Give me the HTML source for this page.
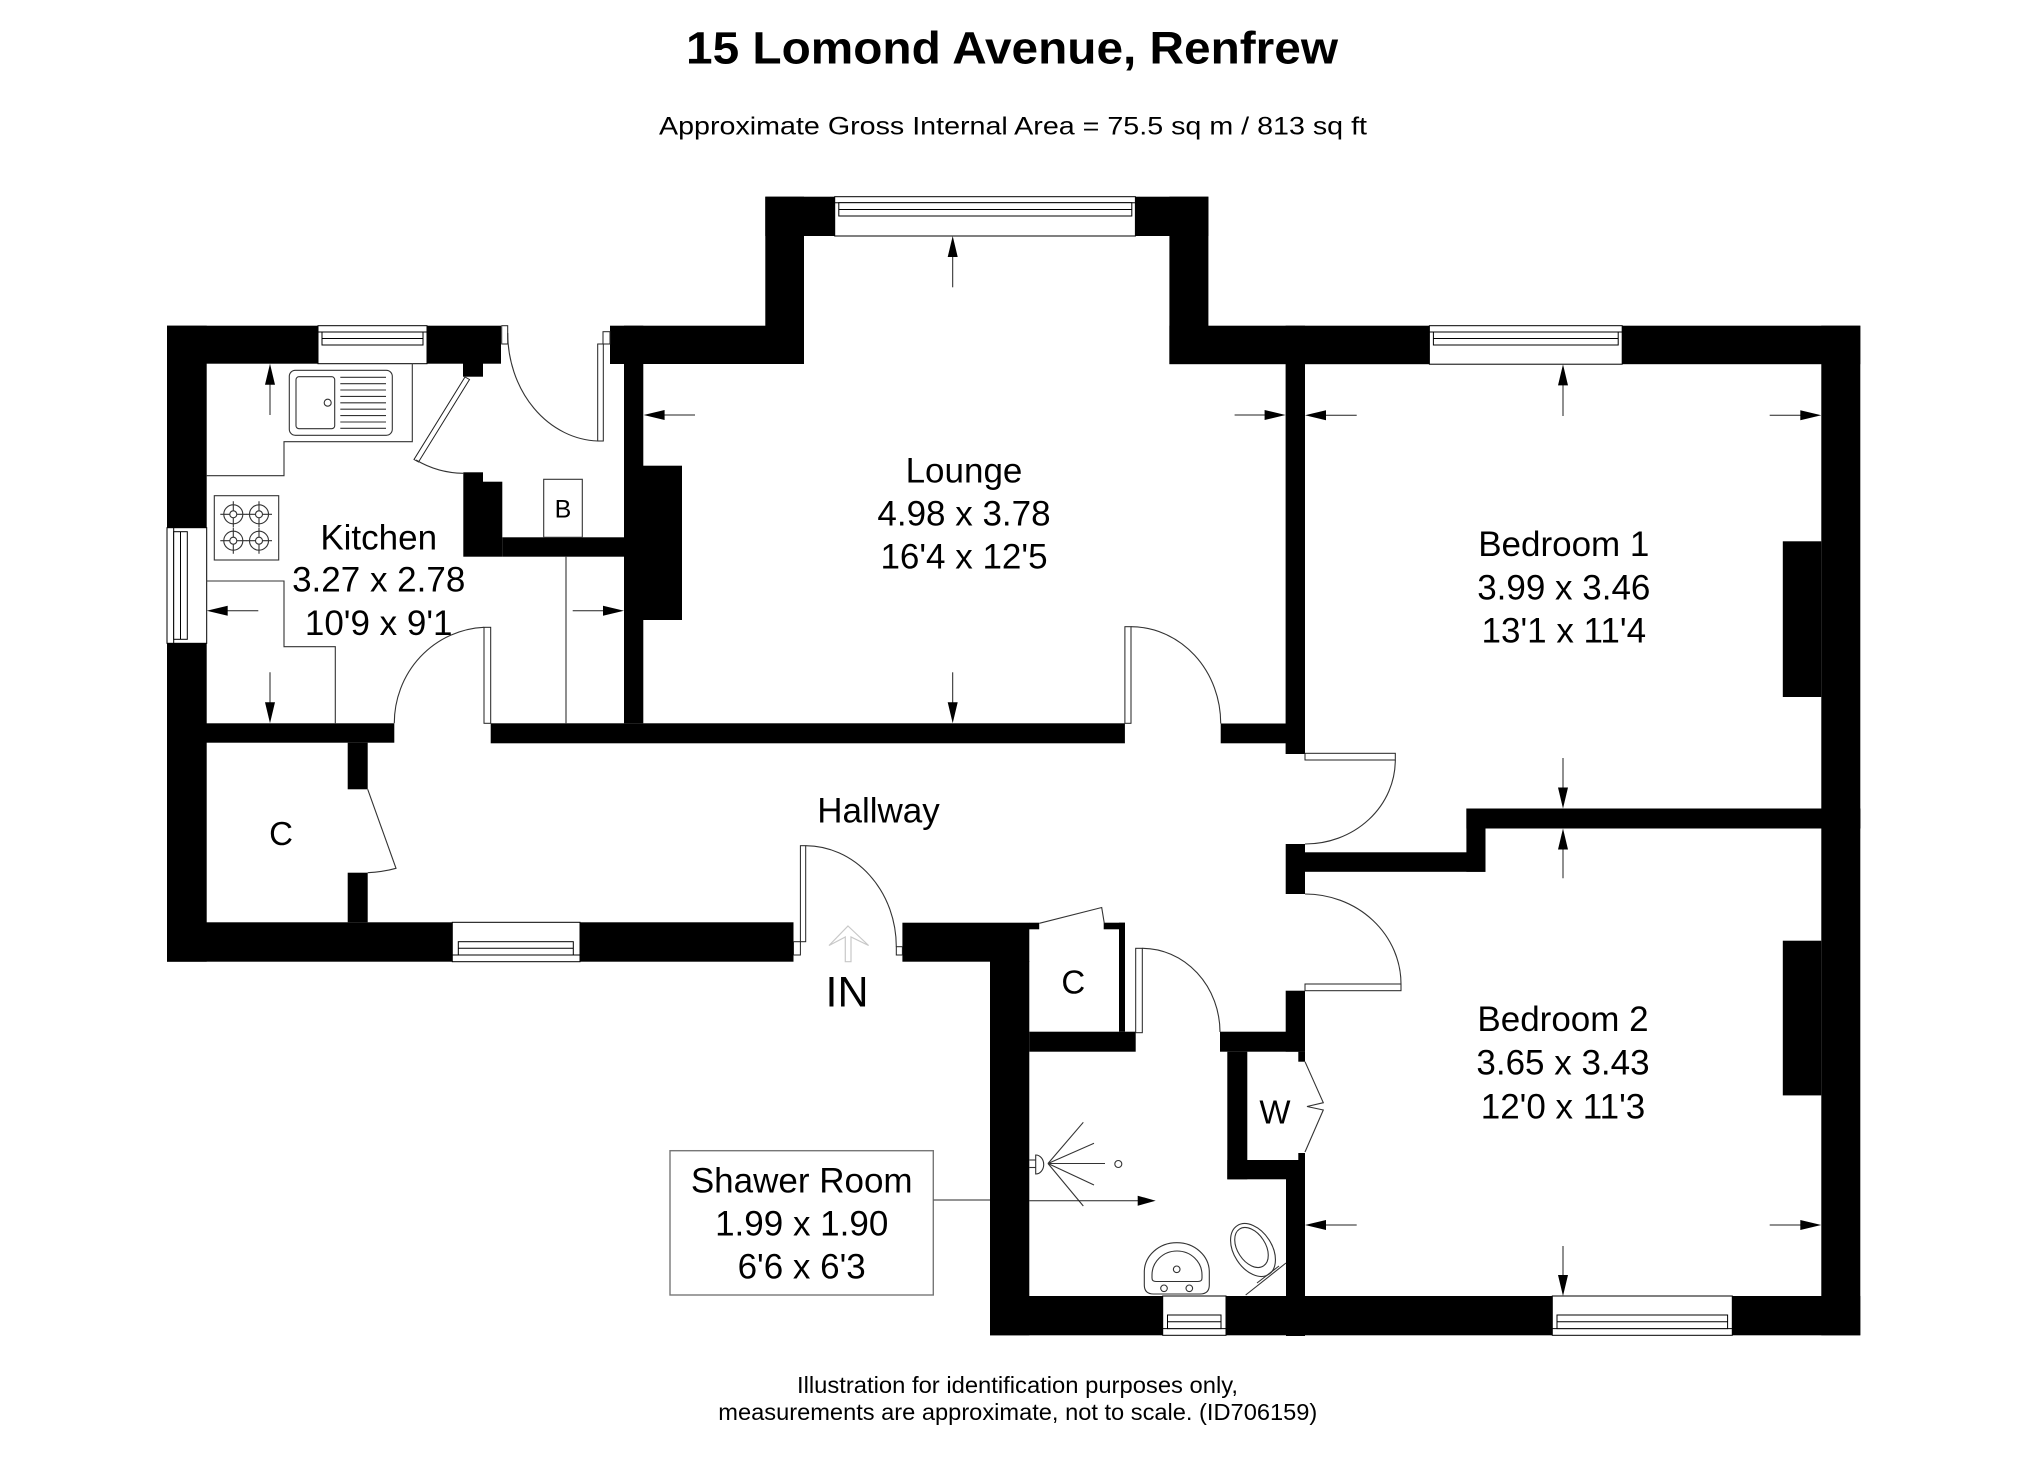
<!DOCTYPE html>
<html>
<head>
<meta charset="utf-8">
<style>
  html,body{margin:0;padding:0;background:#fff;}
  svg{display:block;}
  text{font-family:"Liberation Sans",Arial,sans-serif;fill:#000;}
</style>
</head>
<body>
<svg width="2025" height="1463" viewBox="0 0 2025 1463" xmlns="http://www.w3.org/2000/svg">
<rect x="0" y="0" width="2025" height="1463" fill="#fff"/>

<!-- Titles -->
<text x="1012" y="63.3" font-size="45" font-weight="bold" text-anchor="middle" textLength="652" lengthAdjust="spacingAndGlyphs">15 Lomond Avenue, Renfrew</text>
<text x="1013" y="134.5" font-size="25" text-anchor="middle" textLength="708" lengthAdjust="spacingAndGlyphs">Approximate Gross Internal Area = 75.5 sq m / 813 sq ft</text>

<!-- Footer -->
<text x="1017.5" y="1393" font-size="23.5" text-anchor="middle" textLength="441" lengthAdjust="spacingAndGlyphs">Illustration for identification purposes only,</text>
<text x="1017.8" y="1420" font-size="23.5" text-anchor="middle" textLength="599" lengthAdjust="spacingAndGlyphs">measurements are approximate, not to scale. (ID706159)</text>

<!-- ================= WALLS ================= -->
<g fill="#000">
  <rect x="167" y="325.7" width="151" height="38"/>
  <rect x="427" y="325.7" width="74" height="38"/>
  <rect x="463" y="363" width="20" height="13.7"/>
  <rect x="167" y="325.7" width="39.7" height="202"/>
  <rect x="167" y="643.3" width="39.7" height="318.4"/>
  <rect x="167" y="723.3" width="227.3" height="19.4"/>
  <rect x="490.7" y="723.3" width="634.2" height="20"/>
  <rect x="1220.7" y="723.5" width="84.3" height="19.8"/>
  <rect x="624" y="325.7" width="19.3" height="397.6"/>
  <rect x="624" y="465.7" width="58" height="154.3"/>
  <rect x="463.3" y="472.3" width="19.7" height="84.4"/>
  <rect x="483" y="481.7" width="19.3" height="75"/>
  <rect x="502.3" y="537.3" width="121.7" height="19.4"/>
  <rect x="610" y="325.7" width="194" height="38.3"/>
  <rect x="765.3" y="196.7" width="38.7" height="167.3"/>
  <rect x="765.3" y="196.7" width="69.4" height="39.3"/>
  <rect x="1135.4" y="196.7" width="73" height="39.3"/>
  <rect x="1169.4" y="196.7" width="39" height="167.3"/>
  <rect x="1169.4" y="325.7" width="260" height="38.5"/>
  <rect x="1622.2" y="325.7" width="238.1" height="38.5"/>
  <rect x="1285.6" y="325.7" width="19.4" height="428.3"/>
  <rect x="1821.3" y="325.7" width="39" height="1009.6"/>
  <rect x="1782.8" y="541.3" width="38.5" height="155.7"/>
  <rect x="1782.8" y="940.7" width="38.5" height="154.7"/>
  <rect x="1466.4" y="808.5" width="394" height="20"/>
  <rect x="1466.4" y="808.5" width="19.1" height="63.3"/>
  <rect x="1286" y="852.3" width="199.5" height="19.5"/>
  <rect x="1285.7" y="844" width="19.3" height="50"/>
  <rect x="1285.7" y="990.7" width="19.3" height="61"/>
  <rect x="1220" y="1031.7" width="85" height="20"/>
  <rect x="1227.3" y="1051.7" width="20" height="127.6"/>
  <rect x="1227.3" y="1160" width="77.7" height="19.3"/>
  <rect x="1298.3" y="1051.7" width="6.7" height="10"/>
  <rect x="1298.3" y="1153" width="6.7" height="7"/>
  <rect x="1286" y="1160" width="19" height="176"/>
  <rect x="990" y="1296" width="172.7" height="39.3"/>
  <rect x="1226" y="1296" width="326.3" height="39.3"/>
  <rect x="1732.3" y="1296" width="128" height="39.3"/>
  <rect x="990" y="961" width="39.3" height="374.3"/>
  <rect x="902.4" y="922.7" width="126.9" height="39"/>
  <rect x="1029" y="922.7" width="10.2" height="6.6"/>
  <rect x="1103.7" y="922.7" width="21.2" height="6.6"/>
  <rect x="1119" y="922.7" width="6" height="109"/>
  <rect x="1029.3" y="1031.7" width="106.4" height="20"/>
  <rect x="167" y="922.3" width="285.3" height="39.4"/>
  <rect x="580" y="922.3" width="213.5" height="39.4"/>
  <rect x="347.7" y="742.7" width="20" height="46.6"/>
  <rect x="347.7" y="872.7" width="20" height="49.6"/>
</g>

<!-- ================= WINDOWS ================= -->
<g fill="#fff" stroke="#000" stroke-width="1">
  <rect x="318" y="325.7" width="109" height="38"/>
  <line x1="318" y1="332" x2="427" y2="332"/>
  <rect x="322" y="332" width="101" height="13"/>
  <line x1="322" y1="338.5" x2="423" y2="338.5"/>
  <rect x="834.7" y="196.7" width="300.7" height="39.3"/>
  <line x1="834.7" y1="202.7" x2="1135.4" y2="202.7"/>
  <rect x="838.8" y="202.7" width="293" height="13.3"/>
  <line x1="838.8" y1="209.5" x2="1131.8" y2="209.5"/>
  <rect x="1429.4" y="325.7" width="192.8" height="38.5"/>
  <line x1="1429.4" y1="332" x2="1622.2" y2="332"/>
  <rect x="1433.4" y="332" width="184.8" height="13"/>
  <line x1="1433.4" y1="338.5" x2="1618.2" y2="338.5"/>
  <rect x="167" y="527.7" width="39.7" height="115.6"/>
  <line x1="173.7" y1="527.7" x2="173.7" y2="643.3"/>
  <rect x="173.7" y="531.7" width="13.6" height="107.6"/>
  <line x1="180.5" y1="531.7" x2="180.5" y2="639.3"/>
  <rect x="452.3" y="922.3" width="127.7" height="39.4"/>
  <line x1="452.3" y1="955" x2="580" y2="955"/>
  <rect x="458.3" y="941.7" width="115" height="13.3"/>
  <line x1="458.3" y1="948.3" x2="573.3" y2="948.3"/>
  <rect x="1162.7" y="1296" width="63.3" height="39.3"/>
  <line x1="1162.7" y1="1328.6" x2="1226" y2="1328.6"/>
  <rect x="1167.5" y="1315" width="53.5" height="13.6"/>
  <line x1="1167.5" y1="1321.8" x2="1221" y2="1321.8"/>
  <rect x="1552.3" y="1296" width="180" height="39.3"/>
  <line x1="1552.3" y1="1328.6" x2="1732.3" y2="1328.6"/>
  <rect x="1557" y="1315" width="170.6" height="13.6"/>
  <line x1="1557" y1="1321.8" x2="1727.6" y2="1321.8"/>
</g>

<!-- ================= DOORS ================= -->
<g fill="#fff" stroke="#222" stroke-width="1">
  <polygon points="465,377 469.5,379.5 418.5,462 414,459.5"/>
  <rect x="501.7" y="325.7" width="6" height="18.3"/>
  <rect x="603" y="331.7" width="7" height="12.3"/>
  <rect x="597.7" y="344" width="5.6" height="97"/>
  <rect x="484" y="627.3" width="6.7" height="96"/>
  <rect x="1124.9" y="626.7" width="6.1" height="96.6"/>
  <rect x="1305" y="753.3" width="90.3" height="6.7"/>
  <rect x="1305" y="984" width="96" height="6.7"/>
  <rect x="800.4" y="845.7" width="5.3" height="96"/>
  <rect x="793.5" y="941.7" width="6.9" height="13.3"/>
  <rect x="896.3" y="946.7" width="6.1" height="8.3"/>
  <rect x="1135.7" y="948.3" width="6.6" height="84.4"/>
</g>
<g fill="none" stroke="#333" stroke-width="1.1">
  <path d="M416 460 A95 95 0 0 0 463.3 473.3"/>
  <path d="M507.7 333 A93 108 0 0 0 597.7 441"/>
  <path d="M484 627.3 A94 96 0 0 0 394.3 723.3"/>
  <path d="M1131 626.7 A90 96.6 0 0 1 1220.7 723.5"/>
  <path d="M1395.3 760 A90 84 0 0 1 1305 844"/>
  <path d="M1305 894 A96 90 0 0 1 1401 984"/>
  <path d="M805.7 845.7 A91 101 0 0 1 896.3 946.7"/>
  <path d="M1142.3 948.3 A78 84 0 0 1 1220 1032"/>
  <polyline points="1039.3,923.3 1101.7,907.5 1104.3,923.3"/>
  <path d="M367.7 789.3 L396 868.3 Q383 872 367.7 872.7"/>
  <polyline points="1305,1061.7 1323.3,1102.7 1307,1106.5 1323.3,1110 1305,1152"/>
</g>

<!-- ================= KITCHEN FITTINGS ================= -->
<g fill="none" stroke="#333" stroke-width="1.1">
  <polyline points="412.3,363.7 412.3,441.7 284,441.7 284,475.7 206.7,475.7"/>
  <polyline points="206.7,581 284,581 284,646.7 335.3,646.7 335.3,723.3"/>
  <line x1="566" y1="556.7" x2="566" y2="723.3"/>
  <rect x="289.3" y="370.3" width="103" height="65" rx="6"/>
  <rect x="296" y="376.7" width="38.7" height="52" rx="3"/>
  <circle cx="327.7" cy="402.7" r="3.5"/>
  <line x1="340.3" y1="377.3" x2="386" y2="377.3"/>
  <line x1="340.3" y1="383.7" x2="386" y2="383.7"/>
  <line x1="340.3" y1="390" x2="386" y2="390"/>
  <line x1="340.3" y1="396.4" x2="386" y2="396.4"/>
  <line x1="340.3" y1="402.8" x2="386" y2="402.8"/>
  <line x1="340.3" y1="409.2" x2="386" y2="409.2"/>
  <line x1="340.3" y1="415.6" x2="386" y2="415.6"/>
  <line x1="340.3" y1="422" x2="386" y2="422"/>
  <line x1="340.3" y1="428.3" x2="386" y2="428.3"/>
  <rect x="214.3" y="495.7" width="64.4" height="64.3"/>
  <circle cx="233.3" cy="514.3" r="9.5"/><circle cx="233.3" cy="514.3" r="3.5"/>
  <path d="M220.3 514.3 H229.8 M236.8 514.3 H246.3 M233.3 501.3 V510.8 M233.3 517.8 V527.3"/>
  <circle cx="259" cy="514.3" r="9.5"/><circle cx="259" cy="514.3" r="3.5"/>
  <path d="M246 514.3 H255.5 M262.5 514.3 H272 M259 501.3 V510.8 M259 517.8 V527.3"/>
  <circle cx="233.3" cy="540.7" r="9.5"/><circle cx="233.3" cy="540.7" r="3.5"/>
  <path d="M220.3 540.7 H229.8 M236.8 540.7 H246.3 M233.3 527.7 V537.2 M233.3 544.2 V553.7"/>
  <circle cx="259" cy="540.7" r="9.5"/><circle cx="259" cy="540.7" r="3.5"/>
  <path d="M246 540.7 H255.5 M262.5 540.7 H272 M259 527.7 V537.2 M259 544.2 V553.7"/>
  <rect x="543.7" y="479.3" width="38.6" height="58"/>
</g>

<!-- ================= SHOWER ROOM FITTINGS ================= -->
<g fill="none" stroke="#333" stroke-width="1.1">
  <line x1="1029.3" y1="1160" x2="1035.7" y2="1160"/>
  <line x1="1029.3" y1="1167.5" x2="1035.7" y2="1167.5"/>
  <path d="M1035.7 1155 A8 9.5 0 0 1 1035.7 1174 Z"/>
  <line x1="1048" y1="1163.5" x2="1083.3" y2="1122.3"/>
  <line x1="1048" y1="1163.5" x2="1094" y2="1143.3"/>
  <line x1="1048" y1="1163.5" x2="1105" y2="1163.5"/>
  <line x1="1048" y1="1163.5" x2="1094" y2="1185"/>
  <line x1="1048" y1="1163.5" x2="1083.3" y2="1206"/>
  <circle cx="1118.3" cy="1164" r="3.5"/>
  <path d="M1144.3 1285 L1144.3 1272 A32.5 29.3 0 0 1 1209.3 1272 L1209.3 1285 Q1209.3 1294 1200 1294 L1153.6 1294 Q1144.3 1294 1144.3 1285 Z"/>
  <path d="M1152 1275 A25 24 0 0 1 1202 1275 L1202 1278 Q1202 1281.5 1198 1281.5 L1156 1281.5 Q1152 1281.5 1152 1278 Z"/>
  <circle cx="1176.7" cy="1269.3" r="3.3"/>
  <circle cx="1164" cy="1288.3" r="3.3"/>
  <circle cx="1189.3" cy="1288.3" r="3.3"/>
  <ellipse cx="1253" cy="1250" rx="19" ry="29" transform="rotate(-33 1253 1250)"/>
  <ellipse cx="1251.5" cy="1247.5" rx="14" ry="22" transform="rotate(-33 1251.5 1247.5)"/>
  <line x1="1257" y1="1283" x2="1279" y2="1266"/>
  <line x1="1245.7" y1="1295" x2="1286" y2="1263"/>
</g>

<!-- ================= DIMENSION ARROWS ================= -->
<g stroke="#222" stroke-width="1" fill="none">
  <line x1="270" y1="415" x2="270" y2="380"/>
  <line x1="258.3" y1="610.7" x2="222" y2="610.7"/>
  <line x1="270" y1="672.3" x2="270" y2="705"/>
  <line x1="572.7" y1="610.7" x2="606" y2="610.7"/>
  <line x1="952.7" y1="287.3" x2="952.7" y2="252"/>
  <line x1="695" y1="415" x2="660" y2="415"/>
  <line x1="1234.6" y1="415" x2="1268" y2="415"/>
  <line x1="952.7" y1="672.3" x2="952.7" y2="705"/>
  <line x1="1563" y1="416" x2="1563" y2="380"/>
  <line x1="1356.7" y1="415.3" x2="1320" y2="415.3"/>
  <line x1="1769.7" y1="415.3" x2="1805" y2="415.3"/>
  <line x1="1563" y1="758" x2="1563" y2="792"/>
  <line x1="1563" y1="878.3" x2="1563" y2="845"/>
  <line x1="1563" y1="1246" x2="1563" y2="1280"/>
  <line x1="1356.7" y1="1225" x2="1320" y2="1225"/>
  <line x1="1769.7" y1="1225" x2="1805" y2="1225"/>
  <line x1="1029.3" y1="1200.7" x2="1140" y2="1200.7"/>
</g>
<g fill="#000">
  <polygon points="270,363.7 265,384.7 275,384.7"/>
  <polygon points="952.7,236 947.7,257 957.7,257"/>
  <polygon points="1563,364.4 1558,385.4 1568,385.4"/>
  <polygon points="1563,828.5 1558,849.5 1568,849.5"/>
  <polygon points="270,723.3 265,702.3 275,702.3"/>
  <polygon points="952.7,723.3 947.7,702.3 957.7,702.3"/>
  <polygon points="1563,808.5 1558,787.5 1568,787.5"/>
  <polygon points="1563,1296 1558,1275 1568,1275"/>
  <polygon points="206.7,610.7 227.7,605.7 227.7,615.7"/>
  <polygon points="643.6,415 664.6,410 664.6,420"/>
  <polygon points="1305,415.3 1326,410.3 1326,420.3"/>
  <polygon points="1305,1225 1326,1220 1326,1230"/>
  <polygon points="624,610.7 603,605.7 603,615.7"/>
  <polygon points="1285.6,415 1264.6,410 1264.6,420"/>
  <polygon points="1821.3,415.3 1800.3,410.3 1800.3,420.3"/>
  <polygon points="1821.3,1225 1800.3,1220 1800.3,1230"/>
  <polygon points="1155.7,1200.7 1137.7,1195.7 1137.7,1205.7"/>
</g>

<!-- IN arrow (hollow light) -->
<polygon points="848,926 868.6,945.5 851,937 851,961.7 845.3,961.7 845.3,937 829,945.5" fill="none" stroke="#c8c8c8" stroke-width="1.2"/>

<!-- Shower label box -->
<rect x="670" y="1150.7" width="263.3" height="144.3" fill="#fff" stroke="#777" stroke-width="1.4"/>
<line x1="933.3" y1="1200" x2="990" y2="1200" stroke="#555" stroke-width="1.2"/>

<!-- ================= LABELS ================= -->
<g font-size="35" text-anchor="middle">
  <text x="378.7" y="549.3">Kitchen</text>
  <text x="378.7" y="591.7">3.27 x 2.78</text>
  <text x="378.7" y="635">10'9 x 9'1</text>

  <text x="964" y="482.7">Lounge</text>
  <text x="964" y="525.5">4.98 x 3.78</text>
  <text x="964" y="568.3">16'4 x 12'5</text>

  <text x="1563.8" y="556.1">Bedroom 1</text>
  <text x="1563.8" y="599.4">3.99 x 3.46</text>
  <text x="1563.8" y="642.7">13'1 x 11'4</text>

  <text x="1563" y="1030.8">Bedroom 2</text>
  <text x="1563" y="1074.6">3.65 x 3.43</text>
  <text x="1563" y="1118.4">12'0 x 11'3</text>

  <text x="878.5" y="822.3">Hallway</text>

  <text x="801.7" y="1192.5">Shawer Room</text>
  <text x="801.7" y="1235.5">1.99 x 1.90</text>
  <text x="801.7" y="1278.5">6'6 x 6'3</text>

  <text x="281" y="845" font-size="33">C</text>
  <text x="1073.3" y="993.3" font-size="33">C</text>
  <text x="1275" y="1123.3" font-size="33">W</text>
  <text x="563" y="517.3" font-size="25">B</text>
  <text x="847" y="1006.7" font-size="43">IN</text>
</g>
</svg>
</body>
</html>
